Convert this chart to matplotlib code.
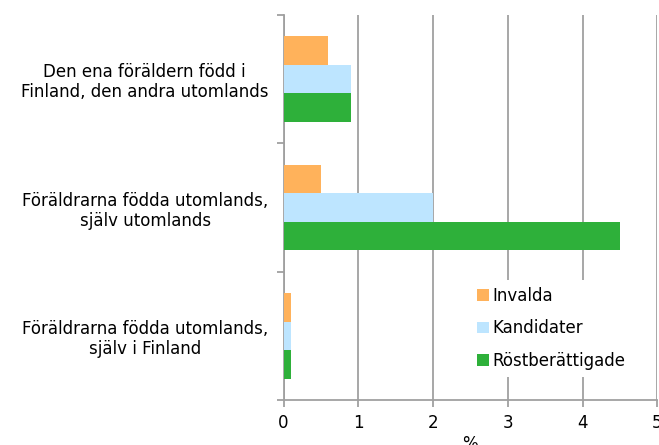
import matplotlib
matplotlib.use("Agg")
import matplotlib.pyplot as plt
import numpy as np

plt.rcParams['font.family'] = ['DejaVu Sans']

categories = [
    "Den ena föräldern född i\nFinland, den andra utomlands",
    "Föräldrarna födda utomlands,\nsjälv utomlands",
    "Föräldrarna födda utomlands,\nsjälv i Finland",
]
series_names = ["Invalda", "Kandidater", "Röstberättigade"]
invalda = [0.6, 0.5, 0.1]
kandidater = [0.9, 2.0, 0.1]
rostberattigade = [0.9, 4.5, 0.1]
colors = ["#FFB25B", "#BDE5FF", "#2EB03A"]
xticks = [0, 1, 2, 3, 4, 5]

fig = plt.figure(figsize=(6.59, 4.45), dpi=100)
ax = fig.add_axes([0.4302, 0.1011, 0.5673, 0.8652])

n = len(categories)
centers = np.arange(n)  # 0 top
bh = 0.222
data = [invalda, kandidater, rostberattigade]
for i, (vals, name, c) in enumerate(zip(data, series_names, colors)):
    ax.barh(centers + (i - 1) * bh, vals, height=bh, color=c, label=name, zorder=3)

ax.set_ylim(n - 0.5, -0.5)
ax.set_xlim(0, 5)
ax.set_xticks(xticks)
ax.set_xticklabels([str(t) for t in xticks], fontsize=12)
ax.set_yticks(np.arange(-0.5, n, 1.0))
ax.set_yticklabels([])
ax.set_yticks(centers, minor=True)
ax.set_yticklabels(categories, minor=True, fontsize=12, multialignment='center',
                   linespacing=1.15)
ax.tick_params(axis='y', which='minor', length=0, pad=11)
ax.tick_params(axis='y', which='major', length=5, color='#A0A0A0', width=1.3)
ax.tick_params(axis='x', length=5, color='#A0A0A0', width=1.3, pad=5)

ax.grid(axis='x', color='#A0A0A0', linewidth=1.3, zorder=0)
for s in ['top', 'right']:
    ax.spines[s].set_visible(False)
for s in ['left', 'bottom']:
    ax.spines[s].set_color('#A0A0A0')
    ax.spines[s].set_linewidth(1.3)

ax.set_xlabel("%", fontsize=12, labelpad=2)

leg = ax.legend(loc='upper left', bbox_to_anchor=(0.499, 0.312), frameon=True,
                facecolor='white', edgecolor='none', framealpha=1,
                fontsize=12, handlelength=0.7, handleheight=0.7,
                handletextpad=0.2, labelspacing=0.86, borderpad=0.42,
                borderaxespad=0)
leg.get_frame().set_boxstyle('square', pad=0)
leg.set_zorder(5)

fig.savefig("out.png", dpi=100)
